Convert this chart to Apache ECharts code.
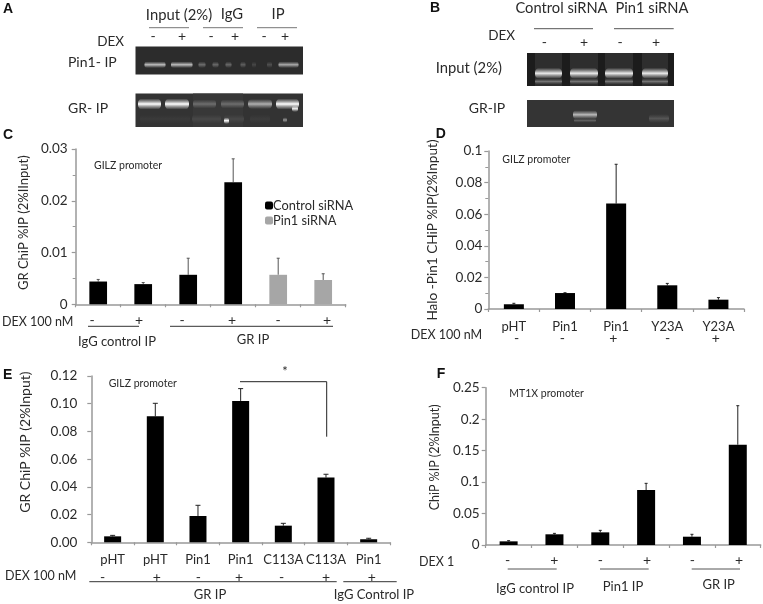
<!DOCTYPE html>
<html><head><meta charset="utf-8">
<style>html,body{margin:0;padding:0;background:#fff}#c{width:763px;height:604px}</style>
<script src="https://cdn.jsdelivr.net/npm/echarts@6/dist/echarts.min.js"></script>
</head><body><div id="c"></div>
<script>
// ---- data ----
var cCategories = ['IgG -','IgG +','GR -','GR +','GR siPin1 -','GR siPin1 +'];
var cControl = [0.0044,0.0039,0.0057,0.0236,null,null];
var cPin1 = [null,null,null,null,0.0057,0.0047];
var cHigh = [0.0048,0.0042,0.0089,0.0281,0.0089,0.0059];
var dCategories = ['pHT','Pin1','Pin1','Y23A','Y23A'];
var dValues = [0.003,0.0101,0.0667,0.015,0.0059];
var dHigh = [0.0036,0.0103,0.0916,0.0162,0.0072];
var eCategories = ['pHT','pHT','Pin1','Pin1','C113A','C113A','Pin1'];
var eValues = [0.0043,0.0909,0.019,0.102,0.012,0.0467,0.0022];
var eHigh = [0.005,0.1003,0.0267,0.1109,0.0137,0.0491,0.0029];
var fCategories = ['IgG -','IgG +','Pin1 -','Pin1 +','GR -','GR +'];
var fValues = [0.0058,0.017,0.0201,0.0874,0.0132,0.1594];
var fHigh = [0.0069,0.0185,0.0233,0.098,0.017,0.2214];

var FONT='Lato', TXT='#2a2a2a';
var gr=[];
function T(x,y,s,align,size){
  gr.push({type:'text',x:x,y:y,silent:true,style:{text:s,font:(size||13)+'px '+FONT,fill:TXT,textAlign:align||'left',textVerticalAlign:'middle'}});
}
function P(x,y,s){gr.push({type:'text',x:x,y:y,silent:true,style:{text:s,font:'bold 14px "Liberation Sans"',fill:'#111',textAlign:'left',textVerticalAlign:'middle'}});}
function L(x1,y1,x2,y2,c,w){gr.push({type:'line',silent:true,shape:{x1:x1,y1:y1,x2:x2,y2:y2},style:{stroke:c||'#444',lineWidth:w||1}});}
function R(x,y,w,h,c){gr.push({type:'rect',silent:true,shape:{x:x,y:y,width:w,height:h},style:{fill:c}});}
// soft gel band: vertical gradient, brightest at its centre
function B(x1,x2,y,h,v){
  var H=h*2.2, c=function(a){return 'rgba('+v+','+v+','+v+','+a+')';};
  gr.push({type:'rect',silent:true,shape:{x:x1,y:y-H/2,width:x2-x1,height:H,r:H/2.4},style:{
    fill:new echarts.graphic.LinearGradient(0,0,0,1,[{offset:0,color:c(0)},{offset:.3,color:c(.55)},{offset:.5,color:c(1)},{offset:.7,color:c(.55)},{offset:1,color:c(0)}])}});
}
function signs(xs,ss,y){xs.forEach(function(x,i){T(x,y,ss[i],'center',14);});}

// Panel A
P(3,9,'A');
T(179,15.5,'Input (2%)','center',14.8);T(232,14.5,'IgG','center',14.8);T(278,14.5,'IP','center',14.8);
L(149,27.7,189,27.7,'#777');L(203,27.7,243,27.7,'#777');L(257,27.7,297,27.7,'#777');
signs([153,182,211,235,264,285],['-','+','-','+','-','+'],36);
T(124,42,'DEX','right',13.5);T(68,62,'Pin1- IP','left',14);T(68,108,'GR- IP','left',14);
R(135.5,46.5,167.5,28,'#2c2c2c');
[[144.5,165.5,190],[171,192.5,190],[198.5,205.5,110],[212.5,218.5,105],[225.5,231.5,105],[240.5,245.5,95],[252,256,70],[267,272,80],[278.5,298.5,170]].forEach(function(b){B(b[0],b[1],64.7,3,b[2]);});
R(135.5,93.5,167.5,33.5,'#333');
R(193,93.5,50,33.5,'#383838');
[[192,221,72],[224,244,72],[250,270,60],[140,190,58]].forEach(function(b){B(b[0],b[1],119,4,b[2]);});
[[138,161,255,5],[165,189,255,5],[193,216,110,4],[221,244,110,4],[248,272,175,4.5],[276,299,255,5]].forEach(function(b){B(b[0],b[1],104,b[3],b[2]);});
B(292,298,108.7,3,240);B(224,229,120.7,3,255);B(283,287,120,2.5,150);

// Panel B
P(430,8,'B');
T(561.5,8,'Control siRNA','center',14.7);T(652,8,'Pin1 siRNA','center',14.7);
L(534,28.7,593,28.7,'#555');L(614,28.7,673.7,28.7,'#555');
T(515,36,'DEX','right',13.5);
signs([544.3,584,620,656],['-','+','-','+'],42);
T(435.7,68,'Input (2%)','left',14.8);T(468.7,108,'GR-IP','left',14);
R(527,53,147,33,'#1c1c1c');
[[535,562],[570,598],[605,633],[642,668]].forEach(function(b){
  R(b[0],53,b[1]-b[0],33,'#2e2e2e');
  B(b[0],b[1],81.5,2.6,115);
  B(b[0],b[1],73.3,5,235);
});
R(527,100,147,27,'#343434');
B(573,597,114.7,4,185);B(574,596,120.5,2,95);B(649,669,118.5,4,85);

// Panel C annotations
P(3,135,'C');
T(94,165.7,'GILZ promoter','left',10.5);
T(2,322,'DEX 100 nM','left',12.5);
signs([92,139,182,232,278,327],['-','+','-','+','-','+'],320);
L(88,326.3,139,326.3,'#333');L(170,326.3,333,326.3,'#333');
T(117,342,'IgG control IP','center',13);T(253,340,'GR IP','center',13);

// Panel D annotations
P(435.7,134,'D');
T(502.3,159.3,'GILZ promoter','left',10.5);
T(410.7,335,'DEX 100 nM','left',12.5);
signs([516.7,562.3,613.3,667.7,715.7],['-','-','+','-','+'],338.3);

// Panel E annotations
P(3,375,'E');
T(108.7,384,'GILZ promoter','left',10.5);
T(5,575.7,'DEX 100 nM','left',12.5);
signs([102.7,156.7,198.3,239,281.7,326,371.7],['-','+','-','+','-','+','+'],577.3);
L(89.3,581.7,336.7,581.7,'#333');L(343.3,581.7,396.7,581.7,'#333');
T(210,595,'GR IP','center',13);T(374,595,'IgG Control IP','center',13);
T(285,372,'*','center',13);
L(240,381.7,326.7,381.7,'#222');L(326.7,381.7,326.7,436.7,'#222');

// Panel F annotations
P(436.7,374,'F');
T(509.3,393.3,'MT1X promoter','left',10.5);
T(419,561.7,'DEX 1','left',12.5);
signs([507.7,554.3,600.3,647,692.3,739],['-','+','-','+','-','+'],560.7);
L(507.7,569,556.7,569,'#555');L(600,569,648.7,569,'#555');L(691.7,569,740,569,'#555');
T(535,589,'IgG control IP','center',13);T(623,587,'Pin1 IP','center',13);T(718.7,585,'GR IP','center',13);

// ---- chart construction ----
var AX='#999';
function yAxis(g,max,step,name,gap,minor,fmt,pad,size,margin){
  return {type:'value',gridIndex:g,min:0,max:max,interval:step,name:name,nameLocation:'middle',nameGap:gap,
    nameTextStyle:{fontFamily:FONT,fontSize:size||13,color:TXT,padding:pad||0},
    axisLine:{show:true,lineStyle:{color:AX,width:1.5}},axisTick:{show:true,length:4,lineStyle:{color:AX,width:1.2}},
    minorTick:{show:!!minor,splitNumber:2,length:3,lineStyle:{color:AX,width:1}},
    splitLine:{show:false},minorSplitLine:{show:false},
    axisLabel:{fontFamily:FONT,fontSize:13.5,color:TXT,margin:margin,formatter:fmt}};
}
function xAxis(g,cats,labels){
  return {type:'category',gridIndex:g,data:cats,
    axisLine:{lineStyle:{color:AX,width:1.5}},axisTick:{show:true,length:3,lineStyle:{color:AX,width:1.2}},
    axisLabel:{show:!!labels,fontFamily:FONT,fontSize:13,color:TXT,margin:11,interval:0}};
}
function bar(g,name,vals,w,col,gap){
  return {type:'bar',name:name,xAxisIndex:g,yAxisIndex:g,data:vals,barWidth:w,barGap:gap,
    itemStyle:{color:col},silent:true,animation:false};
}
function err(g,vals,high,col,cap){
  return {type:'custom',xAxisIndex:g,yAxisIndex:g,silent:true,animation:false,z:1,
    data:high.map(function(h,i){return [i,h,vals[i]];}),
    encode:{x:0,y:1},
    renderItem:function(p,api){
      var a=api.coord([api.value(0),api.value(2)]),b=api.coord([api.value(0),api.value(1)]);
      var s={stroke:col,lineWidth:1};
      return {type:'group',children:[
        {type:'line',shape:{x1:a[0],y1:a[1],x2:b[0],y2:b[1]},style:s},
        {type:'line',shape:{x1:b[0]-cap,y1:b[1],x2:b[0]+cap,y2:b[1]},style:s}]};
    }};
}
var cBase=cControl.map(function(v,i){return v==null?cPin1[i]:v;});
var chart=echarts.init(document.getElementById('c'),null,{renderer:'canvas'});
chart.setOption({
  animation:false,backgroundColor:'#fff',
  grid:[
    {left:75.7,top:149,width:270,height:155.3},
    {left:488.3,top:151,width:255.7,height:158},
    {left:91.3,top:376,width:298.7,height:166.3},
    {left:485.7,top:387.7,width:275,height:157.3}
  ],
  xAxis:[xAxis(0,cCategories,false),xAxis(1,dCategories,true),xAxis(2,eCategories,true),xAxis(3,fCategories,false)],
  yAxis:[
    yAxis(0,0.03,0.01,'GR ChiP %IP (2%IInput)',45,true,undefined,[0,0,0,8],13,8),
    yAxis(1,0.1,0.02,'Halo -Pin1 CHiP %IP(2%Input)',49,true,undefined,0,13.6,6),
    yAxis(2,0.12,0.02,'GR ChiP %IP (2%Input)',59,false,function(v){return v.toFixed(2);},[0,0,0,34],14,14),
    yAxis(3,0.25,0.05,'ChiP %IP (2%Input)',44,false,undefined,[0,0,0,18],12.5,6)
  ],
  legend:{data:['Control siRNA','Pin1 siRNA'],orient:'vertical',left:260,top:194,itemWidth:8,itemHeight:8,itemGap:2,
    textStyle:{fontFamily:FONT,fontSize:12.8,color:TXT,padding:[0,0,0,-5]},selectedMode:false},
  series:[
    bar(0,'Control siRNA',cControl,17.7,'#000','-100%'),
    bar(0,'Pin1 siRNA',cPin1,17.7,'#a6a6a6','-100%'),
    err(0,cBase,cHigh,'#555',1.5),
    bar(1,'Panel D',dValues,20,'#000'),err(1,dValues,dHigh,'#222',1.5),
    bar(2,'Panel E',eValues,17,'#000'),err(2,eValues,eHigh,'#222',2.5),
    bar(3,'Panel F',fValues,18,'#000'),err(3,fValues,fHigh,'#222',1.5)
  ],
  graphic:{elements:gr}
});
</script></body></html>
